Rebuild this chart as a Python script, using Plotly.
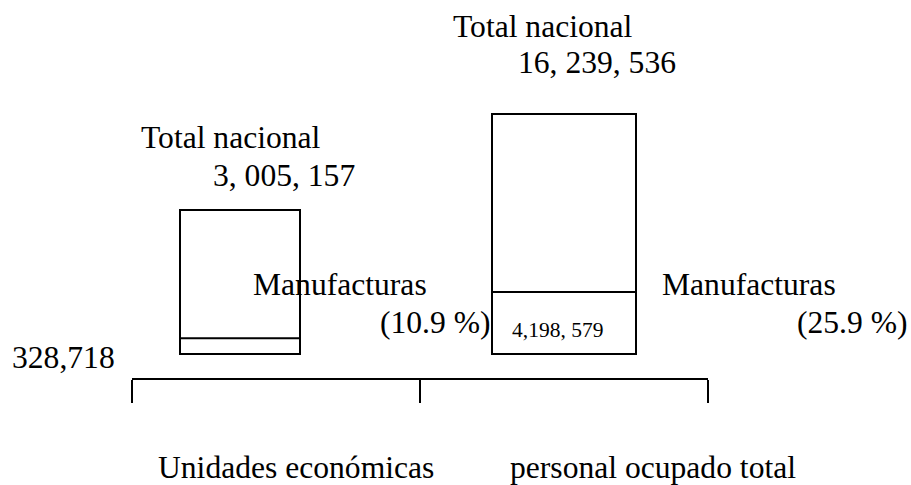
import plotly.graph_objects as go

# ---------------- data ----------------
categorias = ["Unidades económicas", "personal ocupado total"]
totales = [3005157, 16239536]
manufacturas = [328718, 4198579]
porcentajes = [10.9, 25.9]
etiquetas_total = ["3, 005, 157", "16, 239, 536"]
etiquetas_manuf = ["328,718", "4,198, 579"]

# ---------------- geometry / style ----------------
W, H = 911, 485
FONT = "Liberation Serif, Times New Roman, serif"
FS = 31.6
FS_SMALL = 21.5

bar_cx = [240, 564]      # bar centres (px)
bar_w = [120, 144]       # bar widths (px)
base_py = 354            # bar base (px from top)
top_py = [210, 114]      # top of total bars (px from top)

unit = bar_cx[1] - bar_cx[0]
x_range = [-bar_cx[0] / unit, (W - bar_cx[0]) / unit]


def y_range(total, top):
    k = (base_py - top) / total
    return [-(H - base_py) / k, base_py / k]


def px(x):
    return x / W


def py(y):
    return 1 - y / H


fig = go.Figure()
yaxes = ["y", "y2"]
for i in range(len(categorias)):
    for vals in (totales, manufacturas):
        fig.add_trace(go.Bar(
            x=[i], y=[vals[i]], width=[bar_w[i] / unit],
            xaxis="x", yaxis=yaxes[i],
            marker=dict(color="white", line=dict(color="black", width=2)),
            hoverinfo="skip", showlegend=False,
        ))

# invisible trace that defines the bracket axis categories
fig.add_trace(go.Scatter(
    x=categorias, y=[0, 0], xaxis="x2", yaxis="y3",
    mode="markers", marker=dict(opacity=0), hoverinfo="skip", showlegend=False,
))

ann = []


def add_text(text, x, y, size=FS):
    ann.append(dict(text=text, x=px(x), y=py(y), xref="paper", yref="paper",
                    xanchor="left", yanchor="middle", showarrow=False,
                    font=dict(family=FONT, size=size, color="black")))


# left group
add_text("Total nacional", 139, 137)
add_text(etiquetas_total[0], 211, 175)
add_text("Manufacturas", 251, 284)
add_text(f"({porcentajes[0]} %)", 378, 322)
add_text(etiquetas_manuf[0], 10, 357)
# right group
add_text("Total nacional", 451, 26)
add_text(etiquetas_total[1], 516, 63)
add_text("Manufacturas", 660, 284)
add_text(f"({porcentajes[1]} %)", 795, 322)
add_text(etiquetas_manuf[1], 510, 330, FS_SMALL)
# category labels
add_text(categorias[0], 156, 467)
add_text(categorias[1], 508, 467)

fig.update_layout(
    width=W, height=H,
    margin=dict(l=0, r=0, t=0, b=0),
    paper_bgcolor="white", plot_bgcolor="rgba(0,0,0,0)",
    barmode="overlay",
    showlegend=False,
    xaxis=dict(range=x_range, visible=False, fixedrange=True),
    yaxis=dict(range=y_range(totales[0], top_py[0]), visible=False, fixedrange=True),
    yaxis2=dict(range=y_range(totales[1], top_py[1]), visible=False,
                overlaying="y", fixedrange=True),
    yaxis3=dict(range=[-1, 1], visible=False, overlaying="y", fixedrange=True),
    xaxis2=dict(
        type="category", categoryarray=categorias, range=[-0.5, 1.5],
        domain=[132 / W, 708 / W], anchor="free", position=py(379),
        side="bottom", showline=True, linecolor="black", linewidth=2,
        ticks="outside", ticklen=23, tickwidth=2, tickcolor="black",
        tickson="boundaries", showticklabels=False, showgrid=False,
        zeroline=False, fixedrange=True,
    ),
    annotations=ann,
)

fig.write_html("out.html", config={"displayModeBar": False},
               post_script="document.body.style.margin='0';")
